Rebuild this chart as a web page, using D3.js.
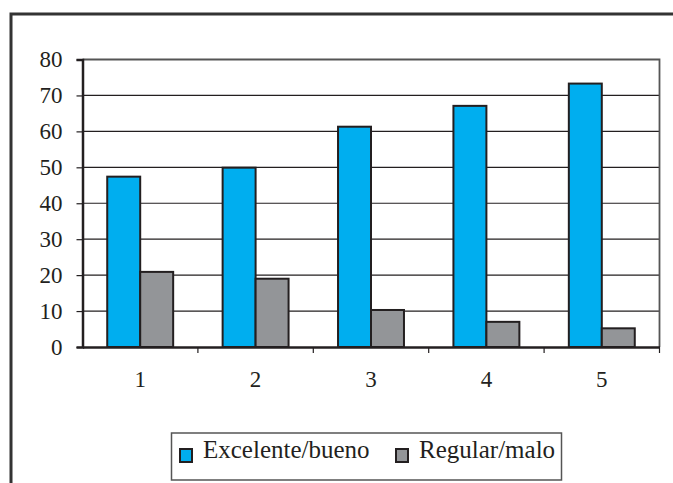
<!DOCTYPE html>
<html><head><meta charset="utf-8">
<script src="https://cdn.jsdelivr.net/npm/d3@7"></script>
<style>body{margin:0;background:#fff}svg{display:block}</style>
</head><body>
<script>
const categories = ["1","2","3","4","5"];
const seriesNames = ["Excelente/bueno","Regular/malo"];
const excelente = [47.4, 49.9, 61.3, 67.1, 73.3];
const regular = [20.9, 19.0, 10.3, 7.0, 5.2];
const yTicks = [0,10,20,30,40,50,60,70,80];
const colors = ["#00aeef","#939598"];

(function(){
const W = 673, H = 483;
const svg = d3.select("body").append("svg").attr("width", W).attr("height", H);
const ink = "#231f20";
const font = '"Liberation Serif"';

svg.append("rect").attr("x", 11).attr("y", 14).attr("width", 700).attr("height", 500)
  .attr("fill", "none").attr("stroke", "#333").attr("stroke-width", 3);

const pL = 82.5, pR = 659.5, pT = 59.5, pB = 347;
const x = d3.scaleBand().domain(categories).range([pL, pR]);
const y = d3.scaleLinear().domain([0, 80]).range([pB, pT]);
const barW = x.bandwidth() / 3.5;

svg.append("g").selectAll("line").data(yTicks.filter(d => d > 0 && d < 80)).join("line")
  .attr("x1", pL).attr("x2", pR).attr("y1", d => y(d)).attr("y2", d => y(d))
  .attr("stroke", ink).attr("stroke-width", 1.2);

svg.append("path").attr("d", `M${pL},${pT}H${pR}V${pB}`)
  .attr("fill", "none").attr("stroke", "#555").attr("stroke-width", 1.8);

const series = [excelente, regular];
series.forEach((vals, si) => {
  svg.append("g").selectAll("rect").data(vals).join("rect")
    .attr("x", (d, i) => x(categories[i]) + x.bandwidth() / 2 - barW + si * barW)
    .attr("y", d => y(d)).attr("width", barW).attr("height", d => pB - y(d))
    .attr("fill", colors[si]).attr("stroke", ink).attr("stroke-width", 2);
});

const yAxis = svg.append("g").attr("transform", `translate(${pL},0)`)
  .call(d3.axisLeft(y).tickValues(yTicks).tickSize(6).tickPadding(14));
yAxis.select(".domain").attr("stroke", ink).attr("stroke-width", 2.5);
yAxis.selectAll(".tick line").attr("stroke", ink).attr("stroke-width", 1.2);
yAxis.selectAll("text").style("font-family", font).style("font-size", "23px").attr("fill", ink);

const xAxis = svg.append("g").attr("transform", `translate(0,${pB})`)
  .call(d3.axisBottom(x).tickSize(0).tickPadding(24));
xAxis.select(".domain").attr("stroke", ink).attr("stroke-width", 2.5);
xAxis.selectAll("text").style("font-family", font).style("font-size", "23px").attr("fill", ink);
const bounds = categories.map(c => x(c)).slice(1).concat([pR]);
svg.append("g").selectAll("line").data(bounds).join("line")
  .attr("x1", d => d).attr("x2", d => d).attr("y1", pB).attr("y2", pB + 6)
  .attr("stroke", ink).attr("stroke-width", 1.2);

const lg = svg.append("g");
lg.append("rect").attr("x", 171.5).attr("y", 433).attr("width", 390).attr("height", 47)
  .attr("fill", "#fff").attr("stroke", "#555").attr("stroke-width", 1.5);
const lx = [180, 396];
seriesNames.forEach((n, i) => {
  lg.append("rect").attr("x", lx[i]).attr("y", 449).attr("width", 12).attr("height", 13)
    .attr("fill", colors[i]).attr("stroke", ink).attr("stroke-width", 2);
  lg.append("text").attr("x", lx[i] + 23).attr("y", 458).text(n)
    .style("font-family", font).style("font-size", "25px").attr("fill", ink);
});
})();
</script>
</body></html>
